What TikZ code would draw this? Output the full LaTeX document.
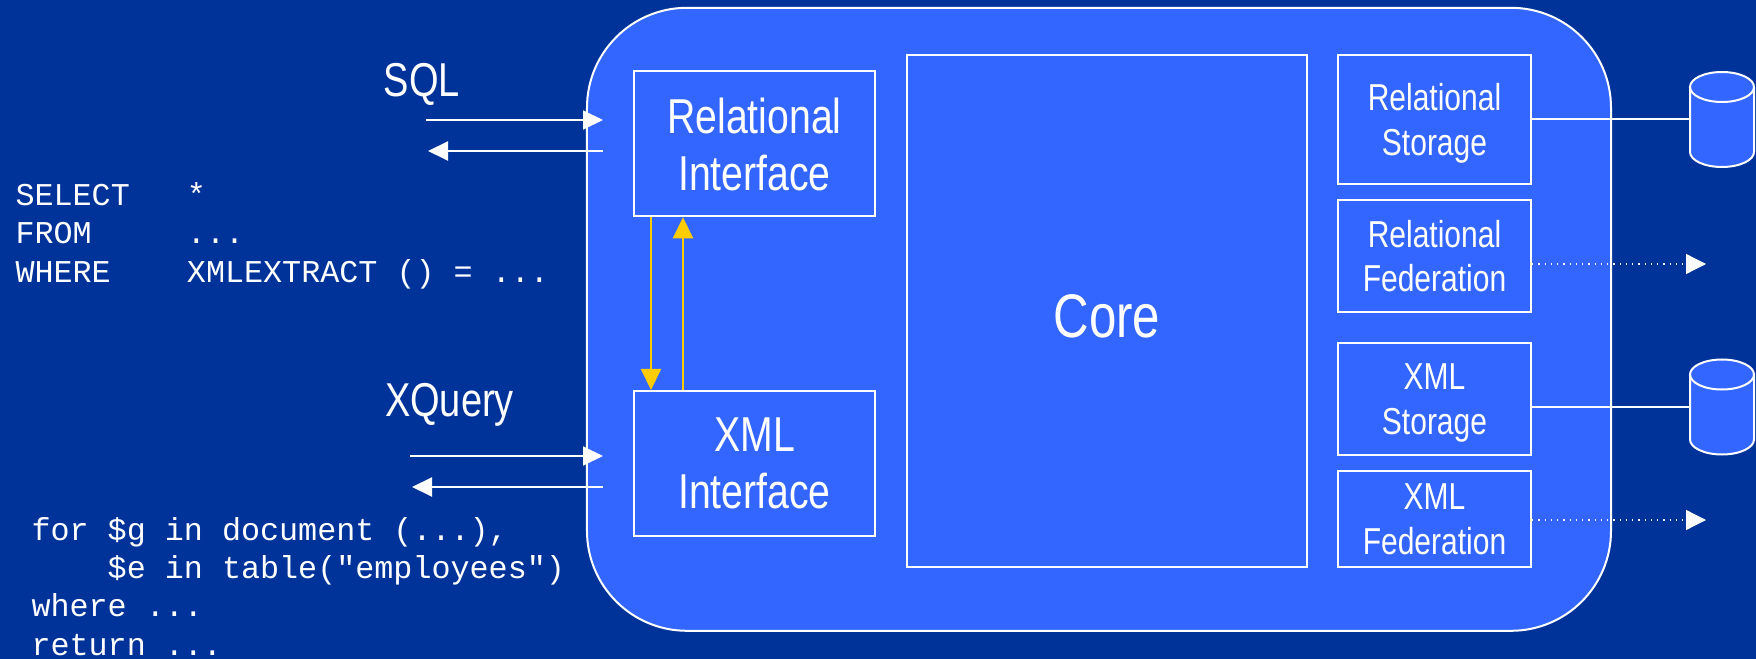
\documentclass[tikz,border=0pt]{standalone}
\usepackage{fontspec}
\setmainfont{Liberation Sans}
\setmonofont{Liberation Mono}
\newfontfamily\narrowsf{Liberation Sans}[FakeStretch=0.8]
\usetikzlibrary{arrows.meta}
\definecolor{bgblue}{HTML}{003399}
\definecolor{engblue}{HTML}{3366FF}
\definecolor{linkyellow}{HTML}{FFCC00}

\begin{document}
\begin{tikzpicture}[x=0.4pt,y=-0.4pt,
	box/.style={draw=white,line width=0.8pt,fill=engblue,text=white,align=center,inner sep=0pt,text depth=0pt},
	ifbox/.style={box,minimum width=96.4pt,minimum height=58pt,font=\narrowsf\fontsize{19.6}{22.8}\selectfont},
	storebox/.style={box,minimum width=77.2pt,font=\narrowsf\fontsize{15}{17.8}\selectfont},
	flow/.style={white,line width=0.8pt,-{Triangle[length=8pt,width=7.6pt]}},
	link/.style={linkyellow,line width=0.8pt,-{Triangle[length=8.4pt,width=8pt]}},
	fedlink/.style={white,line width=0.5pt,dotted,-{Triangle[length=8pt,width=8pt]}},
	code/.style={text=white,anchor=base west,align=left,inner sep=0pt,font=\ttfamily\fontsize{12.7}{15.6}\selectfont},
	lang/.style={text=white,anchor=base,inner sep=0pt,font=\narrowsf\fontsize{19}{22}\selectfont}]
	\fill[bgblue] (0,0) rectangle (1756,659);
	\useasboundingbox (0,0) rectangle (1756,659);

	\node[draw=white,line width=0.8pt,fill=engblue,rounded corners=40pt,minimum width=409.6pt,minimum height=249.2pt] (dbms) at (1099,319.3) {};

	\node[ifbox] (relif) at (754.5,143.75) {Relational\\Interface};
	\node[ifbox] (xmlif) at (754.5,463.5) {XML\\Interface};
	\node[box,minimum width=160pt,minimum height=204.8pt,text height=21.5pt,font=\narrowsf\fontsize{24.6}{28}\selectfont] (core) at (1107,311) {Core};
	\node[storebox,minimum height=51.6pt] (relst) at (1434.5,119.5) {Relational\\Storage};
	\node[storebox,minimum height=44.8pt] (relfed) at (1434.5,256) {Relational\\Federation};
	\node[storebox,minimum height=44.8pt] (xmlst) at (1434.5,399) {XML\\Storage};
	\node[storebox,minimum height=38.4pt] (xmlfed) at (1434.5,519) {XML\\Federation};

	\draw[link] ([xshift=-41.4pt]relif.south) -- ([xshift=-41.4pt]xmlif.north);
	\draw[link] ([xshift=-28.6pt]xmlif.north) -- ([xshift=-28.6pt]relif.south);

	\node[lang] (sql) at (422,97) {SQL};
	\coordinate (sqlsrc) at (426,120);
	\coordinate (sqldst) at (603,120);
	\coordinate (sqlret) at (603,151);
	\coordinate (sqlback) at (428,151);
	\draw[flow] (sqlsrc) -- (sqldst);
	\draw[flow] (sqlret) -- (sqlback);

	\node[lang] (xq) at (449.5,416) {XQuery};
	\coordinate (xqsrc) at (410,456);
	\coordinate (xqdst) at (603,456);
	\coordinate (xqret) at (603,487);
	\coordinate (xqback) at (412,487);
	\draw[flow] (xqsrc) -- (xqdst);
	\draw[flow] (xqret) -- (xqback);

	\node[code] (sqlcode) at (15,283) {SELECT\ \ \ *\\FROM\ \ \ \ \ ...\\WHERE\ \ \ \ XMLEXTRACT () = ...};
	\node[code,font=\ttfamily\fontsize{12.7}{15.3}\selectfont] (xqcode) at (31,655) {for \$g in document (...),\\\ \ \ \ \$e in table("employees")\\where ...\\return ...};

	\foreach \cy/\cn in {119.5/db1,407/db2}{
		\draw[white,line width=0.8pt,fill=engblue] (1690,\cy-32.5) -- (1690,\cy+32.5) arc[start angle=180,end angle=360,x radius=12.8pt,y radius=6pt] -- (1754,\cy-32.5) arc[start angle=0,end angle=180,x radius=12.8pt,y radius=6pt] -- cycle;
		\draw[white,line width=0.8pt] (1690,\cy-32.5) arc[start angle=180,end angle=360,x radius=12.8pt,y radius=6pt];
		\coordinate (\cn) at (1690,\cy);
	}
	\draw[white,line width=0.8pt] (relst.east) -- (db1);
	\draw[white,line width=0.8pt] (xmlst.east |- db2) -- (db2);

	\coordinate (relnet) at (1706,264);
	\coordinate (xmlnet) at (1706,520);
	\draw[fedlink] (relfed.east |- relnet) -- (relnet);
	\draw[fedlink] (xmlfed.east |- xmlnet) -- (xmlnet);
\end{tikzpicture}
\end{document}
